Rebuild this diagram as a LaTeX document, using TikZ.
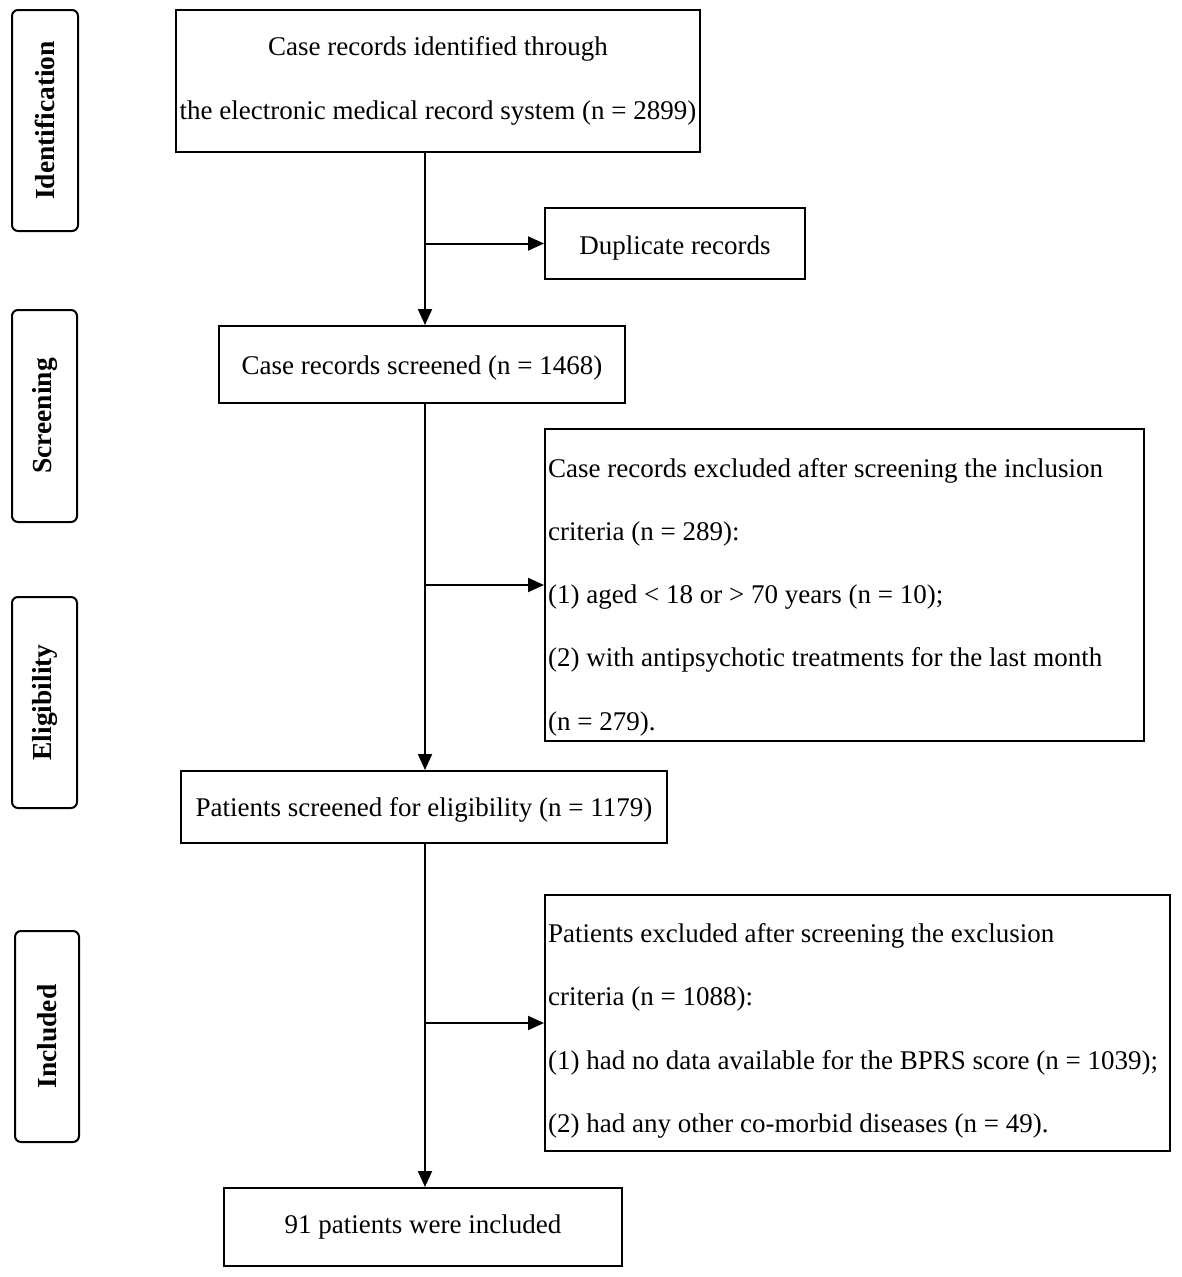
\documentclass[tikz,border=0pt]{standalone}
\usepackage{fontspec}
\setmainfont{Liberation Serif}
\usetikzlibrary{arrows.meta}
\begin{document}
\begin{tikzpicture}[x=1pt,y=-1pt,
  box/.style={draw,line width=2pt,inner sep=0pt,font=\fontsize{27}{64}\selectfont},
  stage/.style={draw,line width=2pt,rounded corners=6pt,inner sep=0pt},
  stagetext/.style={rotate=90,font=\fontsize{27.5}{30}\selectfont\bfseries},
  txt/.style={font=\fontsize{27}{63.3}\selectfont,align=left,inner sep=0pt},
  arr/.style={line width=2pt,-{Triangle[length=16pt,width=14pt]}}]
\useasboundingbox (0,0) rectangle (1181,1277);
% stage boxes
\node[stage,minimum width=66pt,minimum height=221pt] (sid) at (45,120.5) {};
\node[stagetext] (tid) at (sid.center) {Identification};
\node[stage,minimum width=65pt,minimum height=212pt] (ssc) at (44.5,416) {};
\node[stagetext] (tsc) at (ssc.center) {Screening};
\node[stage,minimum width=65pt,minimum height=211pt] (sel) at (44.5,702.5) {};
\node[stagetext] (tel) at (sel.center) {Eligibility};
\node[stage,minimum width=64pt,minimum height=211pt] (sin) at (47,1036.5) {};
\node[stagetext] (tin) at (sin.center) {Included};
% main boxes
\node[box,minimum width=524pt,minimum height=142pt,align=center] (b1) at (438,81)
  {Case records identified through\\the electronic medical record system (n = 2899)};
\node[box,minimum width=260pt,minimum height=71pt,text height=28pt,text depth=6pt] (dup) at (675,243.5) {Duplicate records};
\node[box,minimum width=406pt,minimum height=77pt,text height=26pt,text depth=6pt] (scr) at (422,364.5) {Case records screened (n = 1468)};
\node[box,minimum width=599pt,minimum height=312pt] (ex1) at (844.5,585) {};
\node[txt,anchor=west] (ex1t) at (548,597)
  {Case records excluded after screening the inclusion\\criteria (n = 289):\\(1) aged < 18 or > 70 years (n = 10);\\(2) with antipsychotic treatments for the last month\\(n = 279).};
\node[box,minimum width=486pt,minimum height=72pt,text height=24pt,text depth=6pt] (eli) at (424,807) {Patients screened for eligibility (n = 1179)};
\node[box,minimum width=625pt,minimum height=256pt] (ex2) at (857.5,1023) {};
\node[txt,anchor=west] (ex2t) at (548,1031)
  {Patients excluded after screening the exclusion\\criteria (n = 1088):\\(1) had no data available for the BPRS score (n = 1039);\\(2) had any other co-morbid diseases (n = 49).};
\node[box,minimum width=398pt,minimum height=78pt] (inc) at (423,1227) {91 patients were included};
% connectors
\coordinate (spine) at (425,0);
\draw[arr] (spine |- b1.south) -- (spine |- scr.north);
\draw[arr] (spine |- dup.west) -- (dup.west);
\draw[arr] (spine |- scr.south) -- (spine |- eli.north);
\draw[arr] (spine |- ex1.west) -- (ex1.west);
\draw[arr] (spine |- eli.south) -- (spine |- inc.north);
\draw[arr] (spine |- ex2.west) -- (ex2.west);
\end{tikzpicture}
\end{document}
